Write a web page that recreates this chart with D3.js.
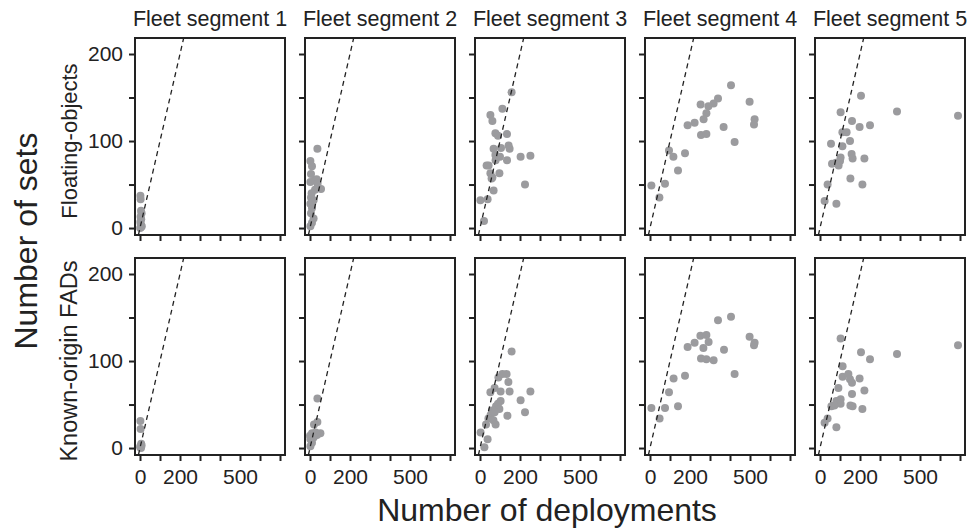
<!DOCTYPE html>
<html>
<head>
<meta charset="utf-8">
<script src="https://cdn.jsdelivr.net/npm/d3@7"></script>
<style>
  body { margin: 0; background: #fff; }
  svg { display: block; }
  text { font-family: "Liberation Sans", Arial, Helvetica, sans-serif; fill: #222; }
</style>
</head>
<body>
<svg id="chart" width="970" height="531"></svg>
<script>
// Panel titles and row labels
const segments = ["Fleet segment 1", "Fleet segment 2", "Fleet segment 3", "Fleet segment 4", "Fleet segment 5"];
const rowLabels = ["Floating-objects", "Known-origin FADs"];

// Axis ticks
const xTicks = [0, 100, 200, 300, 400, 500, 600, 700];
const xTickLabels = [0, 200, 500];
const yTicks = [0, 50, 100, 150, 200];
const yTickLabels = [0, 100, 200];

// [deployments, sets] per fleet segment — floating objects
const floatSeg1 = [[2,37],[3,33],[5,20],[8,17],[3,13],[6,10],[2,7],[4,4],[9,2],[1,0],[5,1]];
const floatSeg2 = [[37,91],[2,77],[10,71],[5,62],[23,55],[2,53],[33,56],[38,51],[55,45],[25,44],[5,35],[18,32],[2,28],[10,23],[5,17],[18,11],[10,6],[2,2],[12,30],[8,40]];
const floatSeg3 = [[158,156],[112,137],[52,130],[62,123],[77,109],[90,106],[135,108],[143,95],[148,91],[68,91],[105,92],[77,84],[100,82],[78,78],[135,78],[203,82],[252,83],[33,72],[43,72],[52,63],[97,63],[58,57],[62,58],[225,50],[68,43],[2,32],[38,33],[20,8]];
const floatSeg4 = [[405,164],[498,145],[523,125],[520,119],[340,149],[318,143],[292,140],[253,142],[282,132],[268,125],[223,121],[188,118],[368,116],[255,107],[282,108],[423,99],[95,89],[117,82],[175,86],[140,66],[7,49],[75,51],[47,35]];
const floatSeg5 = [[690,129],[385,134],[205,152],[103,133],[160,123],[198,116],[250,118],[112,110],[133,110],[150,100],[55,97],[112,94],[158,85],[163,80],[222,80],[103,81],[100,77],[80,75],[60,74],[93,72],[152,57],[212,50],[38,50],[23,31],[82,28]];

// [deployments, sets] per fleet segment — known-origin FADs
const knownSeg1 = [[2,31],[3,22],[6,5],[2,2],[5,0],[8,3],[1,1]];
const knownSeg2 = [[37,57],[37,30],[20,27],[52,17],[35,15],[10,17],[0,14],[2,10],[10,6],[2,2],[18,12],[28,18]];
const knownSeg3 = [[158,111],[92,81],[112,85],[133,85],[142,76],[73,69],[52,64],[103,65],[148,65],[252,65],[203,55],[103,54],[90,51],[80,48],[97,45],[225,41],[137,37],[60,43],[53,38],[73,41],[42,34],[67,32],[30,27],[78,27],[3,18],[38,10],[22,1]];
const knownSeg4 = [[405,151],[340,147],[498,128],[523,121],[520,118],[252,129],[282,130],[223,121],[188,116],[293,122],[267,115],[370,113],[255,103],[282,102],[318,101],[423,85],[118,80],[175,83],[95,64],[140,48],[7,46],[75,46],[48,34]];
const knownSeg5 = [[690,118],[385,108],[103,126],[205,110],[250,102],[113,94],[113,82],[142,85],[150,79],[160,75],[198,80],[92,69],[160,62],[222,66],[103,56],[82,54],[103,51],[57,48],[72,49],[152,49],[163,48],[212,45],[38,34],[23,29],[82,24]];

const panelData = [
  [floatSeg1, floatSeg2, floatSeg3, floatSeg4, floatSeg5],
  [knownSeg1, knownSeg2, knownSeg3, knownSeg4, knownSeg5]
];

// Layout
const panelW = 150, panelH = 197;
const panelX0 = 135, panelStepX = 170;
const panelTops = [38, 258];

const x = d3.scaleLinear().domain([-25, 725]).range([0, panelW]);
const y = d3.scaleLinear().domain([-8, 218.4]).range([panelH, 0]);

const svg = d3.select("#chart");
const ink = "#222";

// 1:1 reference line spanning the shared part of both domains
const lo = Math.max(x.domain()[0], y.domain()[0]);
const hi = Math.min(x.domain()[1], y.domain()[1]);

panelData.forEach((row, r) => {
  row.forEach((pts, c) => {
    const g = svg.append("g")
      .attr("transform", `translate(${panelX0 + c * panelStepX},${panelTops[r]})`);

    // y axis ticks on every panel, labels only on the first column
    const yAxis = d3.axisLeft(y).tickValues(yTicks).tickSize(6).tickPadding(6)
      .tickFormat(d => (c === 0 && yTickLabels.includes(d)) ? d : "");
    const ya = g.append("g").call(yAxis);
    ya.select(".domain").remove();
    ya.selectAll("line").attr("stroke", ink).attr("stroke-width", 2);
    ya.selectAll("text").style("font-size", "21px").attr("fill", ink);

    // x axis ticks on every panel, labels only on the bottom row
    const xAxis = d3.axisBottom(x).tickValues(xTicks).tickSize(6).tickPadding(8)
      .tickFormat(d => (r === 1 && xTickLabels.includes(d)) ? d : "");
    const xa = g.append("g").attr("transform", `translate(0,${panelH})`).call(xAxis);
    xa.select(".domain").remove();
    xa.selectAll("line").attr("stroke", ink).attr("stroke-width", 2);
    xa.selectAll("text").style("font-size", "21px").attr("fill", ink);

    // points
    g.append("g").selectAll("circle").data(pts).join("circle")
      .attr("cx", d => x(d[0]))
      .attr("cy", d => y(d[1]))
      .attr("r", 4)
      .attr("fill", "#9b9b9e");

    // dashed 1:1 line
    g.append("line")
      .attr("x1", x(lo)).attr("y1", y(lo))
      .attr("x2", x(hi)).attr("y2", y(hi))
      .attr("stroke", ink).attr("stroke-width", 1.3)
      .attr("stroke-dasharray", "5,4");

    // frame
    g.append("rect")
      .attr("width", panelW).attr("height", panelH)
      .attr("fill", "none").attr("stroke", ink).attr("stroke-width", 2);

    // strip titles over the top row
    if (r === 0) {
      g.append("text")
        .attr("x", panelW / 2).attr("y", 26 - panelTops[0])
        .attr("text-anchor", "middle")
        .style("font-size", "21.5px")
        .text(segments[c]);
    }
  });
});

// Row labels
const rowLabelSizes = ["22px", "23.5px"];
rowLabels.forEach((lab, r) => {
  svg.append("text")
    .attr("transform", `translate(77,${panelTops[r] + y(100)}) rotate(-90)`)
    .attr("text-anchor", "middle")
    .style("font-size", rowLabelSizes[r])
    .text(lab);
});

// Axis titles
svg.append("text")
  .attr("transform", "translate(37,241) rotate(-90)")
  .attr("text-anchor", "middle")
  .style("font-size", "32px")
  .text("Number of sets");

svg.append("text")
  .attr("x", 547).attr("y", 521)
  .attr("text-anchor", "middle")
  .style("font-size", "32px")
  .text("Number of deployments");
</script>
</body>
</html>
